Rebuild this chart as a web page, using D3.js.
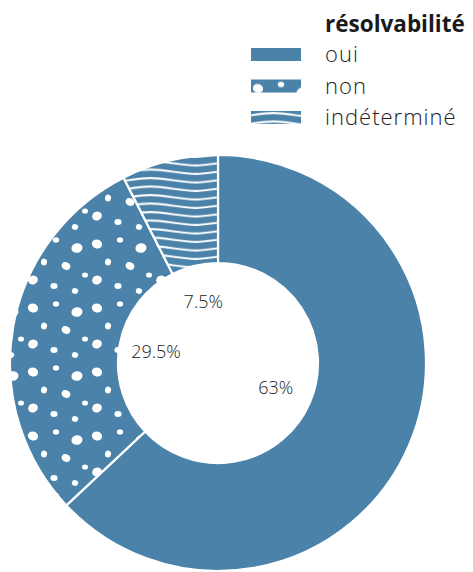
<!DOCTYPE html>
<html>
<head>
<meta charset="utf-8">
<script src="https://cdn.jsdelivr.net/npm/d3@7"></script>
<style>
  html, body { margin: 0; padding: 0; background: #fff; }
  svg { display: block; }
  text { font-family: "Open Sans", "Noto Sans", sans-serif; }
</style>
</head>
<body>
<svg id="chart" width="473" height="572"></svg>
<script>
// Share of problems by solvability
const categories = ["oui", "non", "indéterminé"];
const values = [63, 29.5, 7.5];
const valueLabels = ["63%", "29.5%", "7.5%"];
const legendTitle = "résolvabilité";

const cx = 218, cy = 363;
const outerR = 208, innerR = 100;
const blue = "#4a82a9";

const svg = d3.select("#chart");
const defs = svg.append("defs");

// Speckled fill: irregular white blobs on blue
const dotTile = 64;
const dots = defs.append("pattern")
  .attr("id", "pat-dots")
  .attr("patternUnits", "userSpaceOnUse")
  .attr("width", dotTile).attr("height", dotTile);
dots.append("rect").attr("width", dotTile).attr("height", dotTile).attr("fill", blue);
[[7, 9, 5.2, 4.4, 20], [30, 5, 3.2, 2.8, 0], [51, 13, 5.6, 4.8, -15], [18, 27, 3.0, 3.4, 10],
 [40, 31, 4.6, 3.8, 30], [59, 40, 3.0, 2.6, 0], [7, 45, 5.0, 4.4, -25], [28, 51, 3.6, 3.0, 0],
 [49, 56, 3.2, 2.8, 15]]
  .forEach(([x, y, rx, ry, rot]) => {
    dots.append("ellipse")
      .attr("transform", `translate(${x},${y}) rotate(${rot})`)
      .attr("rx", rx).attr("ry", ry).attr("fill", "#fff");
  });

// Wavy horizontal lines
const waveW = 90, waveH = 8.5;
const waves = defs.append("pattern")
  .attr("id", "pat-waves")
  .attr("patternUnits", "userSpaceOnUse")
  .attr("width", waveW).attr("height", waveH);
waves.append("rect").attr("width", waveW).attr("height", waveH).attr("fill", blue);
[-waveH, 0, waveH].forEach(o => {
  const m = waveH / 2 + o;
  waves.append("path")
    .attr("d", `M0,${m} C22,${m - 3} 23,${m - 3} 45,${m} S68,${m + 3} 90,${m}`)
    .attr("fill", "none").attr("stroke", "#fff").attr("stroke-width", 2);
});

const fills = [blue, "url(#pat-dots)", "url(#pat-waves)"];

const pie = d3.pie().sort(null).value(d => d)(values);
const arc = d3.arc().innerRadius(innerR).outerRadius(outerR);
const labelArc = d3.arc().innerRadius(63).outerRadius(63);

const g = svg.append("g").attr("transform", `translate(${cx},${cy})`);
g.selectAll("path.slice")
  .data(pie)
  .join("path")
  .attr("class", "slice")
  .attr("d", arc)
  .attr("fill", (d, i) => fills[i])
  .attr("stroke", "#fff")
  .attr("stroke-width", 2.2)
  .attr("stroke-linejoin", "round");

g.selectAll("text.val")
  .data(pie)
  .join("text")
  .attr("class", "val")
  .attr("transform", d => `translate(${labelArc.centroid(d)})`)
  .attr("text-anchor", "middle")
  .attr("dy", "0.35em")
  .attr("font-size", 18)
  .attr("font-weight", 300)
  .attr("fill", "#222")
  .text((d, i) => valueLabels[i]);

// Legend
const lg = svg.append("g").attr("transform", "translate(251,0)");
lg.append("text")
  .attr("x", 74).attr("y", 32)
  .attr("font-size", 22.5)
  .attr("font-weight", 700)
  .attr("fill", "#1a1a1a")
  .text(legendTitle);

const rowY = d3.scalePoint().domain(categories).range([48, 111]);
const rows = lg.selectAll("g.row")
  .data(categories)
  .join("g")
  .attr("class", "row")
  .attr("transform", d => `translate(0,${rowY(d)})`);
rows.append("rect")
  .attr("width", 50).attr("height", 13)
  .attr("fill", (d, i) => fills[i]);
rows.append("text")
  .attr("x", 74).attr("y", 14)
  .attr("font-size", 22)
  .attr("font-weight", 300)
  .attr("letter-spacing", 1)
  .attr("fill", "#222")
  .text(d => d);
</script>
</body>
</html>
